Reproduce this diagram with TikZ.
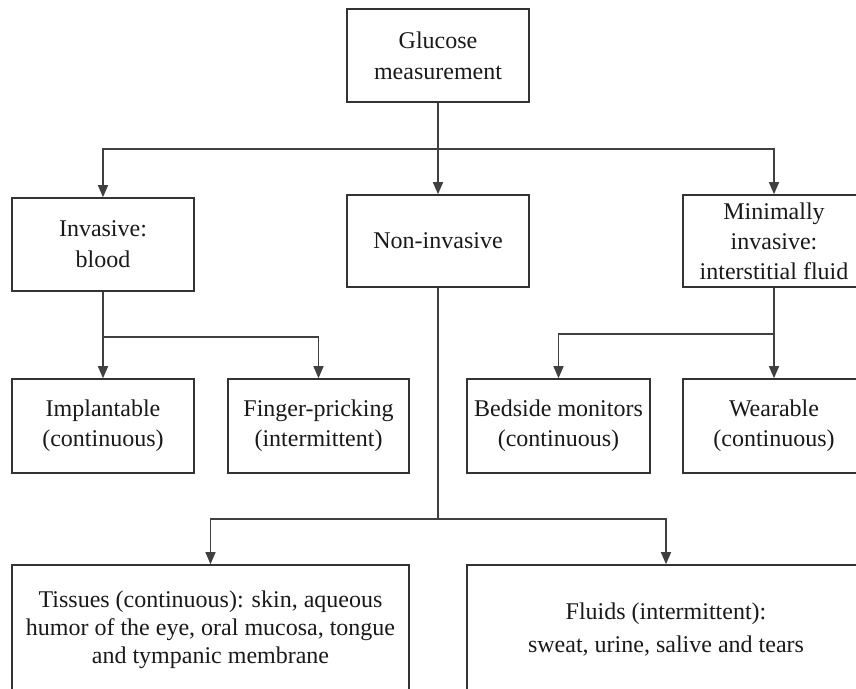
\documentclass[tikz,border=0pt]{standalone}
\usepackage{fontspec}
\setmainfont{Liberation Serif}
\usetikzlibrary{arrows.meta}
\begin{document}
\begin{tikzpicture}[x=1pt,y=-1pt,
  box/.style={draw=black!80, line width=1.6pt, align=center, inner sep=0pt,
    minimum height=93pt, minimum width=182pt,
    font=\fontsize{24}{30}\selectfont, text=black!90},
  conn/.style={draw=black!75, line width=1.3pt},
  arr/.style={conn, -{Triangle[length=12pt,width=10pt]}}]
\useasboundingbox (0,0) rectangle (856,688);
\clip (0,0) rectangle (856,688);
% boxes
\node[box, font=\fontsize{24}{31}\selectfont] (top) at (438,55.5) {Glucose\\measurement};
\node[box, font=\fontsize{24}{31}\selectfont] (inv) at (103,244.5) {Invasive:\\blood};
\node[box, minimum height=92pt] (non) at (438,241) {Non-invasive};
\node[box, minimum height=92pt] (min) at (774,241) {Minimally\\invasive:\\interstitial fluid};
\node[box, minimum height=94pt] (imp) at (103,426) {Implantable\\(continuous)};
\node[box, minimum height=94pt, minimum width=181pt] (fin) at (318.5,426) {Finger-pricking\\(intermittent)};
\node[box, minimum height=94pt, minimum width=183pt] (bed) at (558.5,426) {Bedside monitors\\(continuous)};
\node[box, minimum height=94pt] (wea) at (774,426) {Wearable\\(continuous)};
\node[box, minimum height=130pt, minimum width=397pt, font=\fontsize{24}{28}\selectfont] (tis) at (210.5,630)
  {Tissues (continuous): skin, aqueous\\humor of the eye, oral mucosa, tongue\\and tympanic membrane};
\node[box, minimum height=130pt, minimum width=398pt, font=\fontsize{24}{33}\selectfont] (flu) at (666,630)
  {Fluids (intermittent):\\sweat, urine, salive and tears};
% junctions
\coordinate (j1) at (438,149);
\coordinate (j2) at (103,337);
\coordinate (j3) at (774,334);
\coordinate (j4) at (438,519);
% connectors
\draw[arr] (top.south) -- (non.north);
\draw[arr] (j1) -| (inv.north);
\draw[arr] (j1) -| (min.north);
\draw[arr] (inv.south) -- (imp.north);
\draw[arr] (j2) -| (fin.north);
\draw[arr] (min.south) -- (wea.north);
\draw[arr] (j3) -| (bed.north);
\draw[conn] (non.south) -- (j4);
\draw[arr] (j4) -| (tis.north);
\draw[arr] (j4) -| (flu.north);
\end{tikzpicture}
\end{document}
